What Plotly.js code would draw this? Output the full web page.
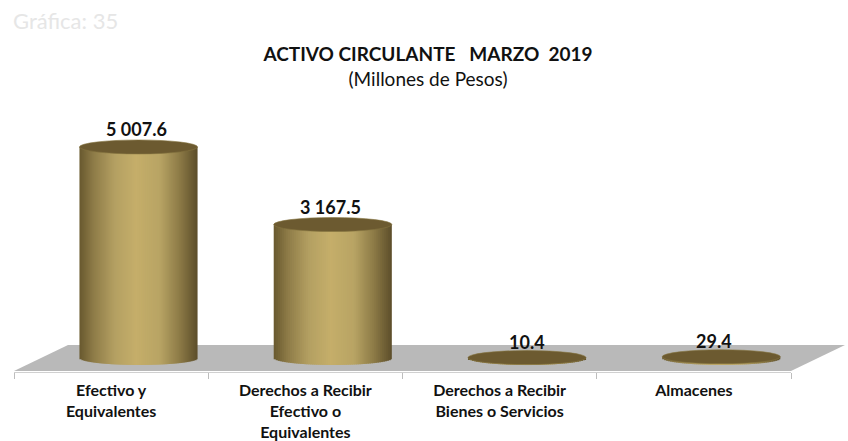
<!DOCTYPE html>
<html>
<head>
<meta charset="utf-8">
<script src="https://cdn.plot.ly/plotly-3.0.1.min.js"></script>
<style>html,body{margin:0;padding:0;background:#fff}</style>
</head>
<body>
<div id="chart" style="width:848px;height:441px"></div>
<script>
// Data
var categories = ['Efectivo y<br>Equivalentes', 'Derechos a Recibir<br>Efectivo o<br>Equivalentes', 'Derechos a Recibir<br>Bienes o Servicios', 'Almacenes'];
var values = [5007.6, 3167.5, 10.4, 29.4];
var valueLabels = ['5 007.6', '3 167.5', '10.4', '29.4'];

// Style and layout constants
var FONT = 'Lato, "Open Sans", sans-serif';
var labelShift = [25, 25, 27, 20];
var labelLift = [5, 5, 3, 3];
var depthOffset = 0.141, halfWidth = 0.304, ellipseRy = 166;
var yMin = -332, yMax = 6122;
var stripCount = 59;
var stops = [[0, [104, 88, 46]], [0.12, [142, 124, 72]], [0.3, [180, 160, 98]], [0.48, [197, 174, 106]], [0.68, [184, 164, 100]], [0.85, [140, 122, 70]], [1, [92, 78, 42]]];

function stripColor(t) {
  for (var i = 1; i < stops.length; i++) {
    if (t <= stops[i][0]) {
      var a = stops[i - 1], b = stops[i], f = (t - a[0]) / (b[0] - a[0]);
      return 'rgb(' + [0, 1, 2].map(function (k) { return Math.round(a[1][k] + f * (b[1][k] - a[1][k])); }).join(',') + ')';
    }
  }
  return 'rgb(92,78,42)';
}

var traces = [];
var w = 2 * halfWidth / stripCount;
for (var s = 0; s < stripCount; s++) {
  var t = (s + 0.5) / stripCount;
  var u = 2 * t - 1;
  var drop = ellipseRy * Math.sqrt(1 - u * u);
  traces.push({
    type: 'bar',
    x: categories,
    y: values.map(function (v) { return v + drop; }),
    base: categories.map(function () { return -drop; }),
    offset: depthOffset - halfWidth + s * w,
    width: w * (s === stripCount - 1 ? 1 : 1.5),
    marker: { color: stripColor(t), line: { width: 0 } },
    hoverinfo: 'skip',
    showlegend: false
  });
}

var shapes = [{
  type: 'path', xref: 'paper', yref: 'paper', layer: 'below',
  path: 'M 0 0.004 L 0.0695 0.099 L 1.0695 0.099 L 1 0.004 Z',
  fillcolor: '#b9b9b9', line: { width: 0 }
}];
values.forEach(function (v, i) {
  shapes.push({
    type: 'circle', xref: 'x', yref: 'y', layer: 'above',
    x0: i + depthOffset - halfWidth, x1: i + depthOffset + halfWidth,
    y0: v - ellipseRy, y1: v + ellipseRy,
    fillcolor: '#6c5a30', line: { width: 0.6, color: '#85733f' }
  });
});

var annotations = values.map(function (v, i) {
  return {
    x: categories[i], y: v, xref: 'x', yref: 'y', text: '<b>' + valueLabels[i] + '</b>',
    showarrow: false, xshift: labelShift[i], yshift: labelLift[i], yanchor: 'bottom',
    font: { family: FONT, size: 18, color: '#111' }
  };
});
annotations.push({
  xref: 'paper', yref: 'paper', x: -0.004, y: 1.293, xanchor: 'left', yanchor: 'middle',
  text: 'Gráfica: 35', showarrow: false,
  font: { family: FONT, size: 22, color: '#e6e6e6' }
});

var layout = {
  width: 848, height: 441,
  margin: { l: 14, r: 57, t: 100, b: 69, pad: 0 },
  paper_bgcolor: '#fff', plot_bgcolor: 'rgba(0,0,0,0)',
  barmode: 'overlay',
  showlegend: false,
  title: {
    text: '<b>ACTIVO CIRCULANTE \u00a0 MARZO \u00a02019</b><br>(Millones de Pesos)',
    x: 428 / 848, xanchor: 'center', y: 0.862, yanchor: 'top',
    font: { family: FONT, size: 19, color: '#111' }
  },
  xaxis: {
    type: 'category', categoryorder: 'array', categoryarray: categories,
    range: [-0.5, 3.5], tickson: 'boundaries',
    ticks: 'outside', ticklen: 6, tickcolor: '#bdbdbd', tickwidth: 1,
    showline: true, linecolor: '#d0d0d0', linewidth: 1, showgrid: false, zeroline: false,
    tickangle: 0, automargin: false, ticklabelstandoff: 4,
    tickfont: { family: FONT, size: 16, color: '#111', weight: 700 }
  },
  yaxis: { range: [yMin, yMax], visible: false, showgrid: false, zeroline: false, fixedrange: true },
  shapes: shapes,
  annotations: annotations
};

Plotly.newPlot('chart', traces, layout, { displayModeBar: false });
</script>
</body>
</html>
